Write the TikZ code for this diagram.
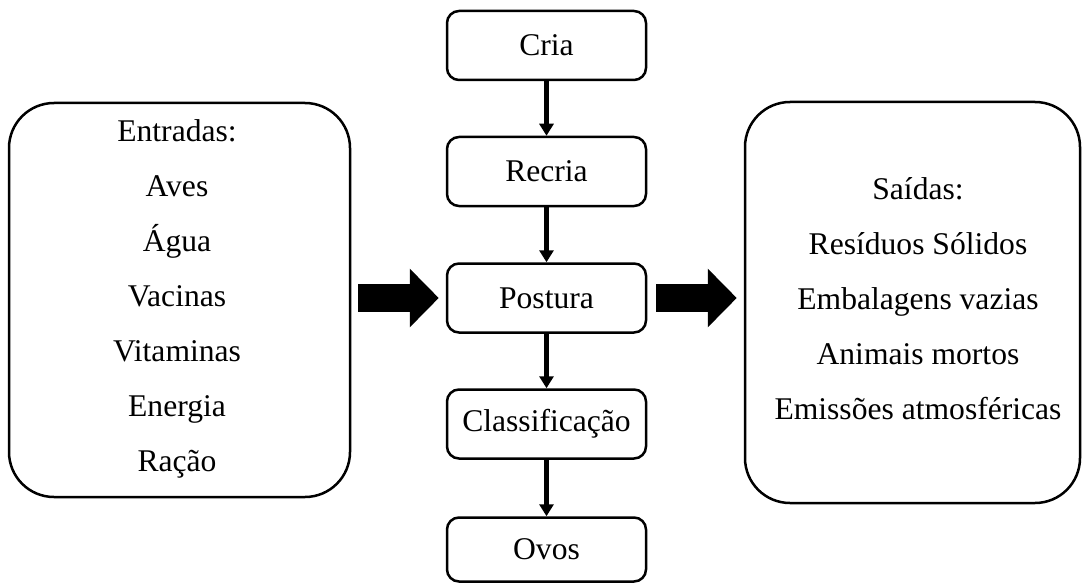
\documentclass[tikz,border=0pt]{standalone}
\usepackage{fontspec}
\setmainfont{Liberation Serif}
\usetikzlibrary{arrows.meta}
\begin{document}
\begin{tikzpicture}[x=1pt,y=-1pt,
  font=\fontsize{31.6}{55}\selectfont,
  stage/.style={draw,line width=2.5pt,rounded corners=12pt,minimum width=199pt,minimum height=69pt,inner sep=0pt},
  bigbox/.style={draw,line width=2.5pt,rounded corners=45pt,align=center,inner sep=0pt},
  listtext/.style={align=center,inner sep=0pt},
  flow/.style={line width=5pt,-{Triangle[width=14pt,length=12pt]}},
  blockarrow/.style={line width=28pt,-{Triangle[width=57pt,length=29pt]}}]
\useasboundingbox (0,0) rectangle (1082,583);
\node[stage] (cria) at (546.5,45.5) {Cria};
\node[stage] (recria) at (546.5,171.5) {Recria};
\node[stage] (postura) at (546.5,298) {Postura};
\node[stage] (class) at (546.5,424) {Classificação};
\node[stage, minimum height=64pt] (ovos) at (546.5,549.5) {Ovos};
\node[bigbox, minimum width=341pt, minimum height=394pt] (inputs) at (179.5,300) {};
\node[listtext] (intext) at (177,299)
  {Entradas:\\Aves\\Água\\Vacinas\\Vitaminas\\Energia\\Ração};
\node[bigbox, minimum width=335pt, minimum height=401pt] (outputs) at (912.5,302.5) {};
\node[listtext] (outtext) at (918,298.5)
  {Saídas:\\Resíduos Sólidos\\Embalagens vazias\\Animais mortos\\Emissões atmosféricas};
\draw[flow] (cria) -- (recria);
\draw[flow] (recria) -- (postura);
\draw[flow] (postura) -- (class);
\draw[flow] (class) -- (ovos);
\draw[blockarrow, shorten <=7pt, shorten >=7pt] (inputs.east |- postura.west) -- (postura.west);
\draw[blockarrow, shorten <=9pt, shorten >=7pt] (postura.east) -- (outputs.west |- postura.east);
\end{tikzpicture}
\end{document}
